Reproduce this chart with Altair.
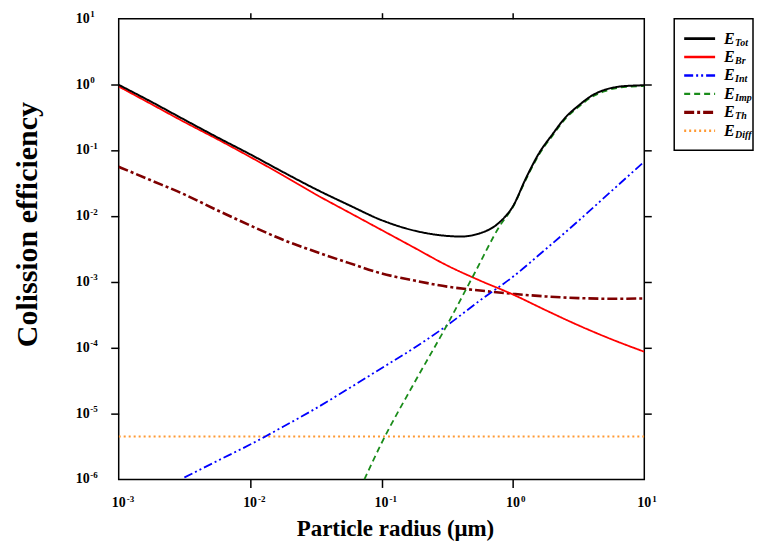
import altair as alt
import pandas as pd

# ---- data (particle radius in um, collision efficiency) ----
tot_x = [0.001, 0.00178, 0.00316, 0.00562, 0.01, 0.0178, 0.0316, 0.0562, 0.1, 0.178, 0.316,
         0.398, 0.562, 0.794, 1.0, 1.259, 1.585, 1.995, 2.512, 3.162, 3.981, 5.012, 6.31, 7.943, 10.0]
tot_y = [0.989, 0.543, 0.292, 0.158, 0.0871, 0.0468, 0.0257, 0.0148, 0.00871, 0.00603, 0.00501,
         0.00490, 0.00550, 0.00813, 0.0141, 0.0380, 0.0912, 0.174, 0.316, 0.479, 0.676, 0.832, 0.923, 0.959, 0.973]

grid_x = [0.001, 0.00178, 0.00316, 0.00562, 0.01, 0.0178, 0.0316, 0.0562, 0.1, 0.178, 0.316,
          0.562, 1.0, 1.78, 3.16, 5.62, 10.0]
br_y = [0.933, 0.501, 0.269, 0.148, 0.0794, 0.0417, 0.0214, 0.01148, 0.00617, 0.00331, 0.00178,
        0.00105, 0.000646, 0.000372, 0.000219, 0.000135, 0.0000871]
th_y = [0.0562, 0.0347, 0.0214, 0.0123, 0.00724, 0.00437, 0.00288, 0.00195, 0.00135, 0.00105, 0.000851,
        0.000741, 0.000661, 0.000603, 0.000569, 0.000556, 0.000562]

int_x = [0.00316, 0.00562, 0.01, 0.0178, 0.0316, 0.0562, 0.1, 0.178, 0.316, 0.562, 1.0, 1.78, 3.16, 5.62, 10.0]
int_y = [1.07e-6, 1.91e-6, 3.39e-6, 6.31e-6, 1.20e-5, 2.40e-5, 4.90e-5, 1.0e-4, 2.19e-4, 5.25e-4,
         1.20e-3, 3.16e-3, 8.51e-3, 0.0240, 0.0676]

imp_x = [0.0741, 0.1, 0.178, 0.316, 0.513, 0.794, 1.0, 1.259, 1.585, 1.995, 2.512, 3.162, 3.981, 5.012, 6.31, 7.943, 10.0]
imp_y = [1.0e-6, 3.55e-6, 2.95e-5, 2.24e-4, 1.38e-3, 7.08e-3, 0.0138, 0.0363, 0.0871, 0.166, 0.302,
         0.457, 0.646, 0.794, 0.891, 0.933, 0.944]

diff_x = [0.001, 10.0]
diff_y = [4.5e-6, 4.5e-6]

series_names = ["Tot", "Br", "Int", "Imp", "Th", "Diff"]

x_ticks = [0.001, 0.01, 0.1, 1, 10]
x_tick_exp = ["-3", "-2", "-1", "0", "1"]
y_ticks = [1e-6, 1e-5, 1e-4, 1e-3, 1e-2, 1e-1, 1, 10]
y_tick_exp = ["-6", "-5", "-4", "-3", "-2", "-1", "0", "1"]

data = {
    "Tot": (tot_x, tot_y),
    "Br": (grid_x, br_y),
    "Int": (int_x, int_y),
    "Imp": (imp_x, imp_y),
    "Th": (grid_x, th_y),
    "Diff": (diff_x, diff_y),
}

styles = {
    "Tot": dict(color="#000000", strokeDash=[1, 0], strokeWidth=2.0),
    "Br": dict(color="#ff0000", strokeDash=[1, 0], strokeWidth=1.8),
    "Int": dict(color="#0000ff", strokeDash=[9, 3, 2, 3, 2, 3], strokeWidth=1.8),
    "Imp": dict(color="#1a8c1a", strokeDash=[6, 4], strokeWidth=1.8),
    "Th": dict(color="#7f0000", strokeDash=[10, 3, 3, 3], strokeWidth=2.6),
    "Diff": dict(color="#ff9933", strokeDash=[2, 3], strokeWidth=2.0),
}

rows = []
for name in series_names:
    xs, ys = data[name]
    for xv, yv in zip(xs, ys):
        rows.append({"series": name, "x": xv, "y": yv})
df = pd.DataFrame(rows)

xt_df = pd.DataFrame({"v": x_ticks, "e": x_tick_exp})
yt_df = pd.DataFrame({"v": y_ticks, "e": y_tick_exp})

W, H = 527, 462
SERIF = "Liberation Serif"
xscale = alt.Scale(type="log", domain=[1e-3, 10], nice=False)
yscale = alt.Scale(type="log", domain=[1e-6, 10], nice=False)

x_bottom = alt.Axis(orient="bottom", values=[0.01, 0.1, 1], labels=False, tickSize=8, tickWidth=1.5,
                    tickColor="black", grid=False, domain=False,
                    title="Particle radius (\u03bcm)", titleFont=SERIF, titleFontWeight="bold",
                    titleFontSize=23, titleColor="black", titlePadding=29, titleX=277)
y_left = alt.Axis(orient="left", values=[1e-5, 1e-4, 1e-3, 1e-2, 1e-1, 1], labels=False, tickSize=8,
                  tickWidth=1.5, tickColor="black", grid=False, domain=False,
                  title="Colission efficiency", titleFont=SERIF, titleFontWeight="bold",
                  titleFontSize=30, titleColor="black", titlePadding=68, titleY=206)
x_top = alt.Axis(orient="top", values=[0.01, 0.1, 1], labels=False, tickSize=6, title=None,
                 grid=False, domain=False, tickColor="black", tickWidth=1.5)
y_right = alt.Axis(orient="right", values=[1e-5, 1e-4, 1e-3, 1e-2, 1e-1, 1], labels=False, tickSize=7,
                   title=None, grid=False, domain=False, tickColor="black", tickWidth=1.5)

base = alt.Chart(df)

axis_layer1 = base.transform_filter(alt.datum.series == "Diff").mark_line(opacity=0).encode(
    x=alt.X("x:Q", scale=xscale, axis=x_bottom),
    y=alt.Y("y:Q", scale=yscale, axis=y_left),
)
axis_layer2 = base.transform_filter(alt.datum.series == "Diff").mark_line(opacity=0).encode(
    x=alt.X("x:Q", scale=xscale, axis=x_top),
    y=alt.Y("y:Q", scale=yscale, axis=y_right),
)

draw_order = ["Diff", "Th", "Int", "Br", "Imp", "Tot"]
line_layers = []
for name in draw_order:
    st = styles[name]
    line_layers.append(
        base.transform_filter(alt.datum.series == name)
        .mark_line(color=st["color"], strokeDash=st["strokeDash"], strokeWidth=st["strokeWidth"],
                   interpolate="monotone", clip=True)
        .encode(
            x=alt.X("x:Q", scale=xscale, axis=None),
            y=alt.Y("y:Q", scale=yscale, axis=None),
            order=alt.Order("x:Q"),
        )
    )

# tick labels as "10" with a raised exponent
lab_style = dict(font=SERIF, fontWeight="bold", color="black")
xl_base = alt.Chart(xt_df)
x_lab10 = xl_base.mark_text(text="10", fontSize=14, align="center", baseline="middle", **lab_style).encode(
    x=alt.X("v:Q", scale=xscale, axis=None), y=alt.value(H + 24))
x_labexp = xl_base.mark_text(fontSize=9, align="left", baseline="middle", dx=8, **lab_style).encode(
    x=alt.X("v:Q", scale=xscale, axis=None), y=alt.value(H + 20), text="e:N")
yl_base = alt.Chart(yt_df)
y_lab10 = yl_base.mark_text(text="10", fontSize=14, align="right", baseline="middle", **lab_style).encode(
    y=alt.Y("v:Q", scale=yscale, axis=None), x=alt.value(-29))
y_labexp = yl_base.mark_text(fontSize=9, align="left", baseline="middle", dy=-4.5, **lab_style).encode(
    y=alt.Y("v:Q", scale=yscale, axis=None), x=alt.value(-28.5), text="e:N")

main = alt.layer(axis_layer1, axis_layer2, *line_layers, x_lab10, x_labexp, y_lab10, y_labexp).resolve_axis(
    x="independent", y="independent"
).properties(width=W, height=H)

# ---- legend panel ----
leg_df = pd.DataFrame({"series": series_names, "row": list(range(len(series_names)))})
ly = alt.Y("row:Q", scale=alt.Scale(domain=[-1.08, 6.06], reverse=True), axis=None)
leg_base = alt.Chart(leg_df)
leg_layers = []
for name in series_names:
    st = styles[name]
    leg_layers.append(
        leg_base.transform_filter(alt.datum.series == name)
        .mark_rule(color=st["color"], strokeDash=st["strokeDash"], strokeWidth=st["strokeWidth"] + 0.6)
        .encode(x=alt.value(10), x2=alt.value(41), y=ly)
    )
leg_E = leg_base.mark_text(text="E", font=SERIF, fontStyle="italic", fontWeight="bold", fontSize=16,
                           align="left", baseline="middle", color="black", clip=True).encode(x=alt.value(50), y=ly)
leg_sub = leg_base.mark_text(font=SERIF, fontStyle="italic", fontWeight="bold", fontSize=10,
                             align="left", baseline="middle", dy=4, color="black", clip=True).encode(
    x=alt.value(61), y=ly, text="series:N")
legend = alt.layer(*leg_layers, leg_E, leg_sub).properties(width=79, height=132)

chart = alt.hconcat(main, legend, spacing=30, bounds="flush").configure_view(
    stroke="black", strokeWidth=1.5
).properties(padding={"left": 3, "top": 0, "right": 0, "bottom": 0}, background="white")

chart.save("out.html", embed_options={"renderer": "svg", "actions": False})
